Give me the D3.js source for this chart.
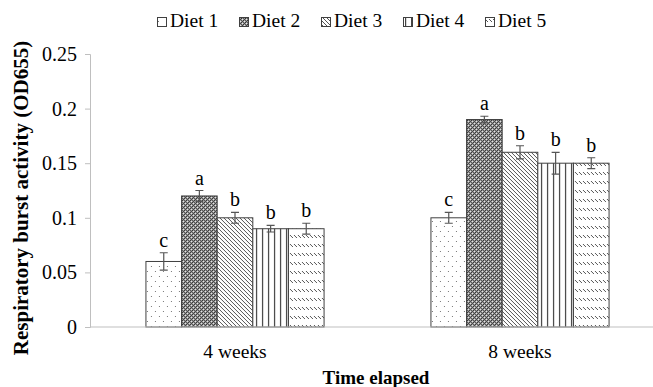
<!DOCTYPE html>
<html>
<head>
<meta charset="utf-8">
<script src="https://cdn.jsdelivr.net/npm/d3@7"></script>
<style>
  body { margin: 0; background: #fff; }
  svg { display: block; font-family: "Liberation Serif", "Times New Roman", serif; }
</style>
</head>
<body>
<svg id="chart" width="653" height="387"></svg>
<script>
// data
const periods = ["4 weeks", "8 weeks"];
const diets = ["Diet 1", "Diet 2", "Diet 3", "Diet 4", "Diet 5"];
const week4 = [0.06, 0.12, 0.10, 0.09, 0.09];
const week8 = [0.10, 0.19, 0.16, 0.15, 0.15];
const err4 = [0.008, 0.005, 0.005, 0.003, 0.005];
const err8 = [0.005, 0.003, 0.006, 0.010, 0.005];
const letters4 = ["c", "a", "b", "b", "b"];
const letters8 = ["c", "a", "b", "b", "b"];
const yTicks = [0, 0.05, 0.1, 0.15, 0.2, 0.25];

const values = [week4, week8];
const errors = [err4, err8];
const letters = [letters4, letters8];

const svg = d3.select('#chart');
const defs = svg.append('defs');

// fill patterns, one per diet
function pattern(id, w, h, draw) {
    const p = defs.append('pattern')
        .attr('id', id)
        .attr('patternUnits', 'userSpaceOnUse')
        .attr('width', w)
        .attr('height', h);
    p.append('rect').attr('width', w).attr('height', h).attr('fill', '#fff');
    draw(p);
}
// dots
pattern('p0', 8, 10, p => {
    p.append('rect').attr('x', 1).attr('y', 1).attr('width', 1).attr('height', 1).attr('fill', '#777');
    p.append('rect').attr('x', 5).attr('y', 6).attr('width', 1).attr('height', 1).attr('fill', '#777');
});
// fine checker
pattern('p1', 4, 4, p => {
    p.select('rect').attr('fill', '#9a9a9a');
    const cells = [[0, 0, '#333'], [2, 0, '#555'], [1, 1, '#e8e8e8'], [3, 1, '#444'],
                   [0, 2, '#555'], [2, 2, '#333'], [1, 3, '#444'], [3, 3, '#e8e8e8']];
    cells.forEach(c => {
        p.append('rect').attr('x', c[0]).attr('y', c[1]).attr('width', 1).attr('height', 1).attr('fill', c[2]);
    });
});
// back diagonals
pattern('p2', 4, 4, p => {
    p.append('path').attr('d', 'M-1,-1 L5,5 M-1,3 L1,5 M3,-1 L5,1')
        .attr('stroke', '#555').attr('stroke-width', 1);
});
// vertical lines
pattern('p3', 6, 6, p => {
    p.append('rect').attr('x', 2).attr('y', 0).attr('width', 1.2).attr('height', 6).attr('fill', '#444');
});
// rows of short diagonal dashes
pattern('p4', 4, 9, p => {
    p.append('path').attr('d', 'M0,1 L3,4')
        .attr('stroke', '#555').attr('stroke-width', 1);
});

const x0 = d3.scaleBand()
    .domain(periods)
    .range([92.5, 662.5])
    .paddingInner(0.375)
    .paddingOuter(0.1875);

const x1 = d3.scaleBand()
    .domain(diets)
    .range([0, x0.bandwidth()]);

const y = d3.scaleLinear()
    .domain([0, 0.25])
    .range([327, 54]);

// y axis
const yAxis = svg.append('g')
    .attr('transform', 'translate(90,0)')
    .call(d3.axisLeft(y).tickValues(yTicks).tickSize(5).tickPadding(8)
        .tickFormat(d => d3.format('')(+d.toFixed(2))));
yAxis.select('.domain').attr('stroke', '#bfbfbf');
yAxis.selectAll('.tick line').attr('stroke', '#bfbfbf');
yAxis.selectAll('.tick text')
    .attr('fill', '#000')
    .style('font-size', '20px')
    .style('font-family', '"Liberation Serif", serif');

// bars
const groups = svg.selectAll('.grp')
    .data(periods)
    .enter()
    .append('g')
    .attr('class', 'grp')
    .attr('transform', d => `translate(${x0(d)},0)`);

groups.each(function (p, gi) {
    const g = d3.select(this);
    diets.forEach((dname, i) => {
        const v = values[gi][i];
        const e = errors[gi][i];
        const bx = x1(dname);
        const bw = x1.bandwidth();
        g.append('rect')
            .attr('x', bx)
            .attr('y', y(v))
            .attr('width', bw)
            .attr('height', y(0) - y(v))
            .attr('fill', `url(#p${i})`)
            .attr('stroke', '#404040')
            .attr('stroke-width', 1);
        const cx = bx + bw / 2;
        g.append('path')
            .attr('d', `M${cx},${y(v + e)}V${y(v - e)}M${cx - 4},${y(v + e)}H${cx + 4}M${cx - 4},${y(v - e)}H${cx + 4}`)
            .attr('stroke', '#555')
            .attr('stroke-width', 1.2)
            .attr('fill', 'none');
        g.append('text')
            .attr('x', cx)
            .attr('y', y(v + e) - 6)
            .attr('text-anchor', 'middle')
            .style('font-size', '20px')
            .text(letters[gi][i]);
    });
});

// x axis line
svg.append('line')
    .attr('x1', 90).attr('x2', 653)
    .attr('y1', y(0)).attr('y2', y(0))
    .attr('stroke', '#bfbfbf')
    .attr('stroke-width', 1.2);

svg.selectAll('.xlab')
    .data(periods)
    .enter()
    .append('text')
    .attr('x', d => x0(d) + x0.bandwidth() / 2)
    .attr('y', 358)
    .attr('text-anchor', 'middle')
    .style('font-size', '19.5px')
    .text(d => d);

// axis titles
svg.append('text')
    .attr('x', 376)
    .attr('y', 384)
    .attr('text-anchor', 'middle')
    .style('font-size', '19px')
    .style('font-weight', 'bold')
    .text('Time elapsed');

svg.append('text')
    .attr('transform', 'translate(28,198) rotate(-90)')
    .attr('text-anchor', 'middle')
    .style('font-size', '21px')
    .style('font-weight', 'bold')
    .text('Respiratory burst activity (OD655)');

// legend
const legend = svg.selectAll('.leg')
    .data(diets)
    .enter()
    .append('g')
    .attr('class', 'leg')
    .attr('transform', (d, i) => `translate(${157 + i * 82},0)`);
legend.append('rect')
    .attr('x', 0.5).attr('y', 17.5)
    .attr('width', 9).attr('height', 9)
    .attr('fill', (d, i) => `url(#p${i})`)
    .attr('stroke', '#404040')
    .attr('stroke-width', 1);
legend.append('text')
    .attr('x', 13)
    .attr('y', 27)
    .style('font-size', '19.5px')
    .text(d => d);
</script>
</body>
</html>
